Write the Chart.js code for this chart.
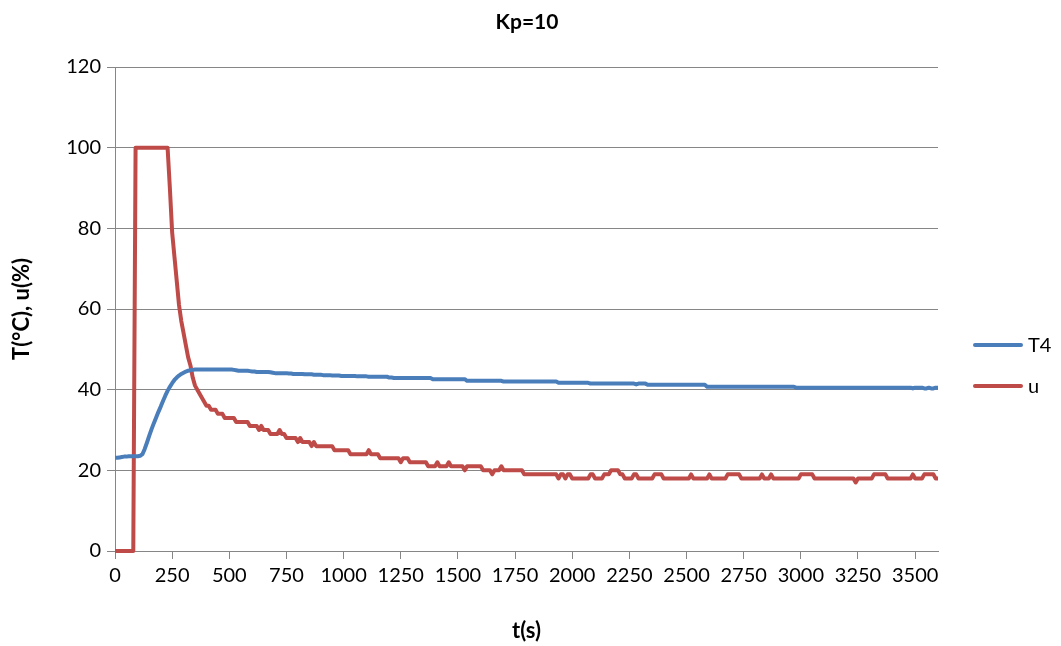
<!DOCTYPE html>
<html>
<head>
<meta charset="utf-8">
<title>Kp=10</title>
<script src="https://cdn.jsdelivr.net/npm/chart.js@4/dist/chart.umd.min.js"></script>
<style>
  html, body { margin: 0; padding: 0; background: #fff; }
  #wrap { width: 1061px; height: 646px; }
</style>
</head>
<body>
<div id="wrap"><canvas id="kpChart" width="1061" height="646"></canvas></div>
<script>
const chartTitle = "Kp=10";
const xTitle = "t(s)";
const yTitle = "T(°C), u(%)";
const seriesNames = ["T4", "u"];
const xTicks = [0, 250, 500, 750, 1000, 1250, 1500, 1750, 2000, 2250, 2500, 2750, 3000, 3250, 3500];

// logged every 10 s, 0..3600 s
const sampleStep = 10;

// T4 temperature, one row per 100 s
const t4 = [
  23.1, 23.1, 23.2, 23.3, 23.4, 23.4, 23.5, 23.5, 23.5, 23.5,
  23.5, 23.6, 24.0, 25.3, 26.9, 28.6, 30.2, 31.7, 33.1, 34.5,
  35.8, 37.2, 38.5, 39.7, 40.7, 41.6, 42.4, 43.0, 43.5, 43.9,
  44.2, 44.5, 44.7, 44.8, 44.9, 45.0, 45.0, 45.0, 45.0, 45.0,
  45.0, 45.0, 45.0, 45.0, 45.0, 45.0, 45.0, 45.0, 45.0, 45.0,
  45.0, 45.0, 44.9, 44.8, 44.7, 44.7, 44.7, 44.7, 44.7, 44.6,
  44.5, 44.5, 44.4, 44.4, 44.4, 44.4, 44.4, 44.4, 44.3, 44.2,
  44.1, 44.1, 44.1, 44.1, 44.1, 44.1, 44.0, 44.0, 43.9, 43.9,
  43.9, 43.9, 43.9, 43.8, 43.8, 43.8, 43.8, 43.7, 43.7, 43.7,
  43.7, 43.6, 43.6, 43.6, 43.6, 43.5, 43.5, 43.5, 43.5, 43.4,
  43.4, 43.4, 43.4, 43.4, 43.4, 43.4, 43.3, 43.3, 43.3, 43.3,
  43.3, 43.2, 43.2, 43.2, 43.2, 43.2, 43.2, 43.2, 43.2, 43.2,
  43.0, 43.0, 42.9, 42.9, 42.9, 42.9, 42.9, 42.9, 42.9, 42.9,
  42.9, 42.9, 42.9, 42.9, 42.9, 42.9, 42.9, 42.9, 42.9, 42.6,
  42.6, 42.6, 42.6, 42.6, 42.6, 42.6, 42.6, 42.6, 42.6, 42.6,
  42.6, 42.6, 42.6, 42.6, 42.2, 42.2, 42.2, 42.2, 42.2, 42.2,
  42.2, 42.2, 42.2, 42.2, 42.2, 42.2, 42.2, 42.2, 42.2, 42.2,
  42.0, 42.0, 42.0, 42.0, 42.0, 42.0, 42.0, 42.0, 42.0, 42.0,
  42.0, 42.0, 42.0, 42.0, 42.0, 42.0, 42.0, 42.0, 42.0, 42.0,
  42.0, 42.0, 42.0, 42.0, 41.7, 41.7, 41.7, 41.7, 41.7, 41.7,
  41.7, 41.7, 41.7, 41.7, 41.7, 41.7, 41.7, 41.7, 41.5, 41.5,
  41.5, 41.5, 41.5, 41.5, 41.5, 41.5, 41.5, 41.5, 41.5, 41.5,
  41.5, 41.5, 41.5, 41.5, 41.5, 41.5, 41.5, 41.5, 41.3, 41.5,
  41.5, 41.5, 41.5, 41.2, 41.2, 41.2, 41.2, 41.2, 41.2, 41.2,
  41.2, 41.2, 41.2, 41.2, 41.2, 41.2, 41.2, 41.2, 41.2, 41.2,
  41.2, 41.2, 41.2, 41.2, 41.2, 41.2, 41.2, 41.2, 41.2, 40.7,
  40.7, 40.7, 40.7, 40.7, 40.7, 40.7, 40.7, 40.7, 40.7, 40.7,
  40.7, 40.7, 40.7, 40.7, 40.7, 40.7, 40.7, 40.7, 40.7, 40.7,
  40.7, 40.7, 40.7, 40.7, 40.7, 40.7, 40.7, 40.7, 40.7, 40.7,
  40.7, 40.7, 40.7, 40.7, 40.7, 40.7, 40.7, 40.7, 40.5, 40.5,
  40.5, 40.5, 40.5, 40.5, 40.5, 40.5, 40.5, 40.5, 40.5, 40.5,
  40.5, 40.5, 40.5, 40.5, 40.5, 40.5, 40.5, 40.5, 40.5, 40.5,
  40.5, 40.5, 40.5, 40.5, 40.5, 40.5, 40.5, 40.5, 40.5, 40.5,
  40.5, 40.5, 40.5, 40.5, 40.5, 40.5, 40.5, 40.5, 40.5, 40.5,
  40.5, 40.5, 40.5, 40.5, 40.5, 40.5, 40.5, 40.5, 40.5, 40.3,
  40.5, 40.5, 40.5, 40.5, 40.3, 40.3, 40.5, 40.3, 40.3, 40.5,
  40.5
];

// controller output u, one row per 100 s
const u = [
  0, 0, 0, 0, 0, 0, 0, 0, 0, 100,
  100, 100, 100, 100, 100, 100, 100, 100, 100, 100,
  100, 100, 100, 100, 90, 79, 73, 67, 61, 57,
  54, 51, 48, 46, 43, 41, 40, 39, 38, 37,
  36, 36, 35, 35, 35, 34, 34, 34, 33, 33,
  33, 33, 33, 32, 32, 32, 32, 32, 32, 31,
  31, 31, 31, 30, 31, 30, 30, 30, 29, 29,
  29, 29, 30, 29, 29, 28, 28, 28, 28, 28,
  27, 28, 27, 27, 27, 27, 26, 27, 26, 26,
  26, 26, 26, 26, 26, 26, 25, 25, 25, 25,
  25, 25, 25, 24, 24, 24, 24, 24, 24, 24,
  24, 25, 24, 24, 24, 24, 23, 23, 23, 23,
  23, 23, 23, 23, 23, 22, 23, 23, 23, 22,
  22, 22, 22, 22, 22, 22, 22, 21, 21, 21,
  21, 22, 21, 21, 21, 21, 22, 21, 21, 21,
  21, 21, 21, 20, 21, 21, 21, 21, 21, 21,
  21, 20, 20, 20, 20, 19, 20, 20, 20, 21,
  20, 20, 20, 20, 20, 20, 20, 20, 20, 19,
  19, 19, 19, 19, 19, 19, 19, 19, 19, 19,
  19, 19, 19, 19, 18, 19, 19, 18, 19, 19,
  18, 18, 18, 18, 18, 18, 18, 18, 19, 19,
  18, 18, 18, 18, 19, 19, 19, 20, 20, 20,
  20, 19, 19, 18, 18, 18, 18, 19, 19, 18,
  18, 18, 18, 18, 18, 18, 19, 19, 19, 19,
  18, 18, 18, 18, 18, 18, 18, 18, 18, 18,
  18, 18, 19, 18, 18, 18, 18, 18, 18, 18,
  19, 18, 18, 18, 18, 18, 18, 18, 19, 19,
  19, 19, 19, 19, 18, 18, 18, 18, 18, 18,
  18, 18, 18, 19, 18, 18, 18, 19, 18, 18,
  18, 18, 18, 18, 18, 18, 18, 18, 18, 18,
  19, 19, 19, 19, 19, 19, 18, 18, 18, 18,
  18, 18, 18, 18, 18, 18, 18, 18, 18, 18,
  18, 18, 18, 18, 17, 18, 18, 18, 18, 18,
  18, 18, 19, 19, 19, 19, 19, 19, 18, 18,
  18, 18, 18, 18, 18, 18, 18, 18, 18, 19,
  18, 18, 18, 18, 19, 19, 19, 19, 19, 18,
  18
];

const seriesColors = ["#4A7EBB", "#BE4B48"];
const axisGray = "#868686";
const fontFamily = "Lato, 'Liberation Sans', sans-serif";

function toPoints(values) {
  return values.map((v, i) => ({ x: i * sampleStep, y: v }));
}

// title above the plot and the legend to its right
const headerAndLegend = {
  id: "headerAndLegend",
  afterDraw(chart) {
    const ctx = chart.ctx;
    ctx.save();
    ctx.fillStyle = "#000";
    ctx.textBaseline = "middle";
    ctx.textAlign = "center";
    ctx.font = "bold 21px " + fontFamily;
    ctx.fillText(chartTitle, 527, 22);

    ctx.textAlign = "left";
    ctx.font = "20px " + fontFamily;
    chart.data.datasets.forEach((ds, i) => {
      const y = 345 + i * 41;
      ctx.strokeStyle = ds.borderColor;
      ctx.lineWidth = 4;
      ctx.lineCap = "round";
      ctx.beginPath();
      ctx.moveTo(975, y);
      ctx.lineTo(1021, y);
      ctx.stroke();
      ctx.fillStyle = "#000";
      ctx.fillText(ds.label, 1028, y + 1);
    });
    ctx.restore();
  }
};

const ctx = document.getElementById("kpChart").getContext("2d");
const kpChart = new Chart(ctx, {
  type: "line",
  data: {
    datasets: [
      {
        label: seriesNames[0],
        data: toPoints(t4),
        borderColor: seriesColors[0],
        borderWidth: 4,
        pointRadius: 0,
        tension: 0,
        borderJoinStyle: "round",
        clip: 6
      },
      {
        label: seriesNames[1],
        data: toPoints(u),
        borderColor: seriesColors[1],
        borderWidth: 4,
        pointRadius: 0,
        tension: 0,
        borderJoinStyle: "round",
        clip: 6
      }
    ]
  },
  options: {
    responsive: false,
    animation: false,
    layout: { padding: { top: 67, right: 123, left: 0, bottom: 0 } },
    plugins: {
      legend: { display: false },
      title: { display: false },
      tooltip: { enabled: false }
    },
    scales: {
      x: {
        type: "linear",
        min: 0,
        max: 3600,
        afterBuildTicks: (scale) => {
          scale.ticks = xTicks.map((v) => ({ value: v }));
        },
        afterFit: (scale) => { scale.height = 95; },
        grid: {
          drawOnChartArea: false,
          drawTicks: true,
          tickLength: 8,
          color: axisGray
        },
        border: { color: axisGray },
        ticks: {
          autoSkip: false,
          maxRotation: 0,
          padding: 5,
          color: "#000",
          font: { family: fontFamily, size: 20 },
          callback: (v) => String(v)
        },
        title: {
          display: true,
          text: xTitle,
          color: "#000",
          font: { family: fontFamily, size: 22, weight: "bold" },
          padding: { top: 0, bottom: 2 }
        }
      },
      y: {
        min: 0,
        max: 120,
        afterFit: (scale) => { scale.width = 115; },
        grid: {
          color: axisGray,
          tickLength: 8
        },
        border: { color: axisGray },
        ticks: {
          stepSize: 20,
          padding: 6,
          color: "#000",
          font: { family: fontFamily, size: 20 },
          callback: (v) => String(v)
        },
        title: {
          display: true,
          text: yTitle,
          color: "#000",
          font: { family: fontFamily, size: 22, weight: "bold" },
          padding: { top: 9, bottom: 0 }
        }
      }
    }
  },
  plugins: [headerAndLegend]
});
</script>
</body>
</html>
